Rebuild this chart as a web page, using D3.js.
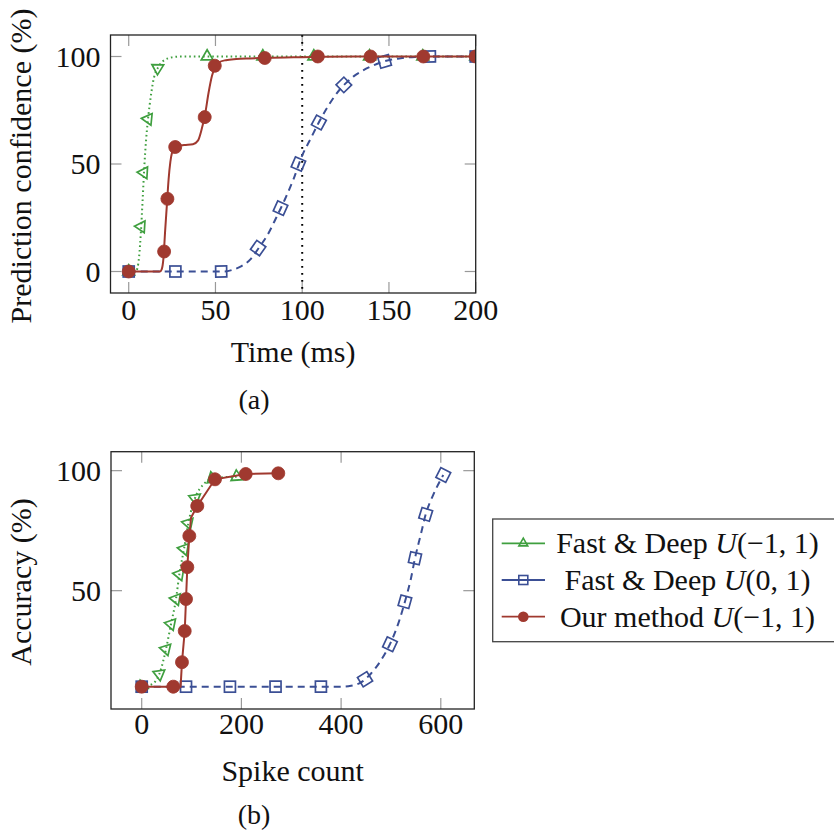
<!DOCTYPE html>
<html><head><meta charset="utf-8">
<script src="https://cdn.jsdelivr.net/npm/d3@7"></script>
<style>
body{margin:0;background:#fff;}
#wrap{position:relative;width:834px;height:836px;overflow:hidden;}
#c{position:absolute;left:0;top:0;}
.lbl{position:absolute;line-height:1;white-space:nowrap;color:#111;}
</style></head>
<body><div id="wrap"><svg id="c" width="834" height="836"></svg></div>
<script>
// ---- data ----
const seriesNames = ["Fast & Deep", "Fast & Deep", "Our method"];
const seriesDist = ["(\u22121, 1)", "(0, 1)", "(\u22121, 1)"];
const timeTicks = [0, 50, 100, 150, 200];
const confTicks = [0, 50, 100];
const spikeTicks = [0, 200, 400, 600];
const accTicks = [50, 100];
const markerTime = 100;

// (a) prediction confidence vs time
const fdNegLineA = [[0,0],[4,0],[5,1.5],[6,7],[7,18],[8,33],[9,49],[10,61],[11,70],[12,77],[13,83],[14,88],[15,91.5],[17,95],[20,98],[25,99.6],[30,100],[200,100]];
const fdNegMarksA = [[0,0],[7.2,20.9],[8.7,46],[11.2,70.9],[16.7,94.6],[45.2,100],[77.3,100],[106.7,100],[138.8,100],[169.5,100],[200,100]];
const fdPosLineA = [[0,0],[55,0],[60,0.8],[65,2.5],[70,5.5],[75,11],[80,17],[85,25],[90,33.5],[95,43],[100,54],[105,62],[110,70],[115,77],[120,83],[125,87.5],[130,91],[135,93.5],[140,95.5],[147,97.7],[155,99],[165,99.8],[175,100],[200,100]];
const fdPosMarksA = [[0,0],[26.9,0],[53.3,0],[74.6,10.9],[87.5,29.5],[97.8,50],[109.6,69.3],[124,86.8],[147.5,97.7],[173.6,100],[200,100]];
const oursLineA = [[0,0],[18,0],[19,1],[20,6],[21,19],[22,31],[23,43],[24,51],[25,55.5],[26,57.3],[28,58.3],[32,58.8],[37,59.2],[40,61],[42,66],[44,73],[46,83],[48,91],[50,95.5],[52,97.3],[56,98.3],[62,98.8],[70,99.1],[80,99.4],[100,99.7],[130,100],[200,100]];
const oursMarksA = [[0,0],[20.4,9.3],[22.3,33.8],[26.8,57.9],[43.8,71.8],[49.6,95.7],[78.4,99.3],[109,100],[139.4,100],[169.8,100],[200,100]];

// (b) accuracy vs spike count
const fdNegLineB = [[0,10],[20,11],[35.3,15.2],[48.7,25.6],[58.8,36.1],[68.8,46.5],[75.5,56.8],[84.9,67.4],[93.5,78.1],[106.9,88.5],[125,94.5],[141.6,96.8],[190.6,97.5]];
const fdNegMarksB = [[0,10],[35.3,15.2],[48.7,25.6],[58.8,36.1],[68.8,46.5],[75.5,56.8],[84.9,67.4],[93.5,78.1],[106.9,88.5],[141.6,96.8],[190.6,97.5]];
const fdPosLineB = [[0,10],[400,10],[420,10.4],[440,11.8],[460,15.5],[480,21],[498,27.7],[515,36.5],[528,45.4],[540,55],[548.2,63.5],[560,73.5],[569.7,81.8],[585,90],[605,98.2]];
const fdPosMarksB = [[0,10],[88.9,10],[177,10],[268.5,10],[359.5,10],[448,13.1],[498,27.7],[528,45.4],[548.2,63.5],[569.7,81.8],[605,98.2]];
const oursLineB = [[0,10],[78,10],[80.8,20.2],[86.3,33.2],[88.9,46.5],[91.5,59.8],[95.5,72.8],[99,80.5],[111.5,85.3],[147,96.4],[208.6,98.6],[274,98.9]];
const oursMarksB = [[0,10],[63.4,10],[80.8,20.2],[86.3,33.2],[88.9,46.5],[91.5,59.8],[95.5,72.8],[111.5,85.3],[147,96.4],[208.6,98.6],[274,98.9]];

// ---- styles ----
const GREEN = "#3f9f3f", BLUE = "#3b4f95", RED = "#a0392f";
const styles = [
  {color: GREEN, dash: "1.6,3", marker: "tri"},
  {color: BLUE, dash: "7,5", marker: "sq"},
  {color: RED, dash: null, marker: "dot"}
];
const FS = 30;
const ASC = 0.8375; // baseline offset within a line-height:1 box for Liberation Serif
const svg = d3.select("#c");
const wrap = d3.select("#wrap");

function label(x, y, size, anchor, rot) {
  const d = wrap.append("div").attr("class", "lbl")
    .style("font-family", "'Liberation Serif'", "important")
    .style("font-size", size + "px");
  if (!rot) {
    const tx = anchor === "middle" ? "-50%" : anchor === "end" ? "-100%" : "0";
    d.style("left", x + "px").style("top", (y - ASC * size) + "px").style("transform", `translateX(${tx})`);
  } else {
    d.style("left", x + "px").style("top", y + "px").style("transform-origin", "0 0")
      .style("transform", `rotate(-90deg) translate(-50%, ${-ASC * size}px)`);
  }
  return d;
}

function drawMarker(g, type, color, x, y, ang) {
  const m = g.append("g").attr("transform", `translate(${x},${y}) rotate(${ang})`);
  if (type === "tri") {
    m.append("path").attr("d", d3.symbol(d3.symbolTriangle, 60)())
      .attr("fill", "none").attr("stroke", color).attr("stroke-width", 1.7);
  } else if (type === "sq") {
    m.append("rect").attr("x", -5.5).attr("y", -5.5).attr("width", 11).attr("height", 11)
      .attr("fill", "none").attr("stroke", color).attr("stroke-width", 1.7);
  } else {
    m.append("circle").attr("r", 6.5).attr("fill", color).attr("stroke", color).attr("stroke-width", 0.8);
  }
}

function panel(id, xDom, xRange, yDom, yRange, xTicks, yTicks, lines, marks, curves, xLabel, xLabelY, capY, capText, yLabel, yLabelCy, tickLabelBase) {
  const x = d3.scaleLinear().domain(xDom).range(xRange);
  const y = d3.scaleLinear().domain(yDom).range(yRange);
  const g = svg.append("g");
  const [x0, x1] = xRange, [y0, y1] = [yRange[1], yRange[0]];
  g.append("clipPath").attr("id", id).append("rect")
    .attr("x", x0).attr("y", y0).attr("width", x1 - x0).attr("height", y1 - y0);
  const tk = 11;
  xTicks.forEach(t => {
    g.append("line").attr("x1", x(t)).attr("x2", x(t)).attr("y1", y1).attr("y2", y1 - tk).attr("stroke", "#999").attr("stroke-width", 1.2);
    g.append("line").attr("x1", x(t)).attr("x2", x(t)).attr("y1", y0).attr("y2", y0 + tk).attr("stroke", "#999").attr("stroke-width", 1.2);
    label(x(t), tickLabelBase, FS, "middle").text(t);
  });
  yTicks.forEach(t => {
    g.append("line").attr("y1", y(t)).attr("y2", y(t)).attr("x1", x0).attr("x2", x0 + tk).attr("stroke", "#999").attr("stroke-width", 1.2);
    g.append("line").attr("y1", y(t)).attr("y2", y(t)).attr("x1", x1).attr("x2", x1 - tk).attr("stroke", "#999").attr("stroke-width", 1.2);
    label(x0 - 10, y(t) + 10.5, FS, "end").text(t);
  });
  const plot = g.append("g").attr("clip-path", `url(#${id})`);
  if (id === "clipA") {
    plot.append("line").attr("x1", x(markerTime)).attr("x2", x(markerTime)).attr("y1", y0).attr("y2", y1)
      .attr("stroke", "#000").attr("stroke-width", 2).attr("stroke-dasharray", "1.8,5.2");
  }
  lines.forEach((ln, i) => {
    const st = styles[i];
    const lg = d3.line().x(d => x(d[0])).y(d => y(d[1])).curve(curves[i]);
    plot.append("path").attr("d", lg(ln)).attr("fill", "none").attr("stroke", st.color)
      .attr("stroke-width", 2).attr("stroke-dasharray", st.dash);
    const px = ln.map(d => [x(d[0]), y(d[1])]);
    marks[i].forEach(m => {
      const mx = x(m[0]), my = y(m[1]);
      let best = 0, bd = Infinity;
      px.forEach((p, k) => { const dd = (p[0]-mx)**2 + (p[1]-my)**2; if (dd < bd) { bd = dd; best = k; } });
      const a = px[Math.max(0, best - 1)], b = px[Math.min(px.length - 1, best + 1)];
      const ang = Math.atan2(b[1] - a[1], b[0] - a[0]) * 180 / Math.PI;
      drawMarker(plot, st.marker, st.color, mx, my, ang);
    });
  });
  g.append("rect").attr("x", x0).attr("y", y0).attr("width", x1 - x0).attr("height", y1 - y0)
    .attr("fill", "none").attr("stroke", "#222").attr("stroke-width", 1.3);
  label((x0 + x1) / 2, xLabelY, FS, "middle").text(xLabel);
  label(254, capY, 28, "middle").text(capText);
  label(31, yLabelCy, FS, "middle", true).text(yLabel);
}

panel("clipA", [-10.5, 200], [110.5, 475.7], [-10, 110], [293, 35], timeTicks, confTicks,
  [fdNegLineA, fdPosLineA, oursLineA], [fdNegMarksA, fdPosMarksA, oursMarksA],
  [d3.curveMonotoneX, d3.curveMonotoneX, d3.curveMonotoneX],
  "Time (ms)", 362, 409, "(a)", "Prediction confidence (%)", 166, 320.5);

panel("clipB", [-61.6, 667.2], [111, 474.3], [0.7, 107.9], [709, 451.7], spikeTicks, accTicks,
  [fdNegLineB, fdPosLineB, oursLineB], [fdNegMarksB, fdPosMarksB, oursMarksB],
  [d3.curveMonotoneX, d3.curveMonotoneX, d3.curveLinear],
  "Spike count", 781.5, 824, "(b)", "Accuracy (%)", 582, 734);

// ---- legend ----
const lg = svg.append("g");
lg.append("rect").attr("x", 492.7).attr("y", 519).attr("width", 345).attr("height", 122.7)
  .attr("fill", "#fff").attr("stroke", "#444").attr("stroke-width", 1.3);
const rowY = [543.3, 580, 616.7];
seriesNames.forEach((nm, i) => {
  const st = styles[i], yy = rowY[i];
  lg.append("line").attr("x1", 501.7).attr("x2", 545).attr("y1", yy).attr("y2", yy)
    .attr("stroke", st.color).attr("stroke-width", 1.8);
  const mg = lg.append("g").attr("transform", `translate(523.3,${yy})`);
  if (st.marker === "tri") mg.append("path").attr("d", d3.symbol(d3.symbolTriangle, 34)()).attr("fill", "none").attr("stroke", st.color).attr("stroke-width", 1.6);
  else if (st.marker === "sq") mg.append("rect").attr("x", -4.5).attr("y", -4.5).attr("width", 9).attr("height", 9).attr("fill", "none").attr("stroke", st.color).attr("stroke-width", 1.6);
  else mg.append("circle").attr("r", 5.3).attr("fill", st.color);
  const t = label(687.5, yy + 10, FS, "middle");
  t.append("span").text(nm + " ");
  t.append("span").style("font-style", "italic").text("U");
  t.append("span").text(seriesDist[i]);
});
</script></body></html>
